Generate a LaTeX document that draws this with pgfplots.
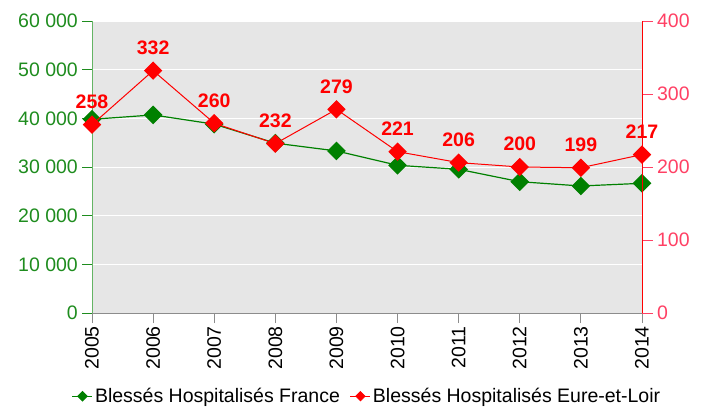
\documentclass[border=0pt]{standalone}
\usepackage{fontspec}
\setmainfont{Liberation Sans}
\usepackage{pgfplots}
\pgfplotsset{compat=1.18}
\definecolor{bggray}{RGB}{230,230,230}
\definecolor{ggreen}{RGB}{0,128,0}
\definecolor{glab}{RGB}{30,140,30}
\definecolor{gaxis}{RGB}{100,180,100}
\definecolor{rlab}{RGB}{255,64,100}
\definecolor{xgray}{RGB}{140,140,140}
\newcommand{\fs}{\fontsize{19.5}{23}\selectfont}
\begin{document}
\begin{tikzpicture}
\useasboundingbox (0,0) rectangle (708pt,408pt);
\begin{axis}[
  at={(92pt,95pt)}, anchor=south west,
  scale only axis, width=550pt, height=292pt,
  xmin=2005, xmax=2014, ymin=0, ymax=60000,
  clip=false,
  scaled y ticks=false, scaled x ticks=false,
  axis background/.style={fill=bggray},
  axis x line=bottom, axis y line=left,
  x axis line style={-, draw=xgray, line width=1pt},
  y axis line style={-, draw=gaxis, line width=1pt},
  tick align=outside,
  major tick length=10pt,
  xtick={2005,2006,2007,2008,2009,2010,2011,2012,2013,2014},
  xticklabels={2005,2006,2007,2008,2009,2010,2011,2012,2013,2014},
  x tick style={draw=xgray, line width=1pt},
  xticklabel style={rotate=90, anchor=east, font=\fs, text=black, inner sep=3pt},
  ytick={0,10000,20000,30000,40000,50000,60000},
  yticklabels={0,10\ 000,20\ 000,30\ 000,40\ 000,50\ 000,60\ 000},
  y tick style={draw=glab, line width=1pt},
  yticklabel style={font=\fs, text=glab, inner sep=4pt},
  ymajorgrids,
  grid style={white, line width=1pt},
  minor tick num=0,
]
\addplot[ggreen, line width=1.2pt, mark=square*, mark size=6pt, mark options={rotate=45, fill=ggreen, draw=ggreen}]
coordinates {(2005,39800) (2006,40700) (2007,38800) (2008,34900) (2009,33300) (2010,30350) (2011,29530) (2012,26980) (2013,26100) (2014,26650)};
\end{axis}
\begin{axis}[
  at={(92pt,95pt)}, anchor=south west,
  scale only axis, width=550pt, height=292pt,
  xmin=2005, xmax=2014, ymin=0, ymax=400,
  clip=false,
  /pgf/number format/assume math mode=true,
  axis x line=none, axis y line=right,
  y axis line style={-, draw=red, line width=0.8pt},
  tick align=outside,
  major tick length=11pt,
  ytick={0,100,200,300,400},
  yticklabels={0,100,200,300,400},
  y tick style={draw=rlab, line width=1pt},
  yticklabel style={font=\fs, text=rlab, inner sep=4pt},
  nodes near coords={\pgfmathprintnumber[assume math mode=true]{\pgfplotspointmeta}},
  every node near coord/.append style={font=\fs\bfseries, text=red, anchor=south, yshift=12pt},
  legend columns=2,
  legend style={at={(-0.037,-0.285)}, anchor=west, draw=none, fill=none, inner sep=0pt,
    font=\fs, nodes={inner sep=2pt},
    /tikz/every even column/.append style={column sep=8pt}},
  legend cell align=left,
  legend image code/.code={\draw[mark repeat=2,mark phase=2,mark size=3.2pt] plot coordinates {(0pt,0pt) (10pt,0pt) (20pt,0pt)};},
]
\addlegendimage{ggreen, line width=1.2pt, mark=square*, mark options={rotate=45, fill=ggreen, draw=ggreen}}
\addlegendentry{Blessés Hospitalisés France}
\addplot[red, line width=1pt, mark=square*, mark size=6pt, mark options={rotate=45, fill=red, draw=red}]
coordinates {(2005,258) (2006,332) (2007,260) (2008,232) (2009,279) (2010,221) (2011,206) (2012,200) (2013,199) (2014,217)};
\addlegendentry{Blessés Hospitalisés Eure-et-Loir}
\end{axis}
\end{tikzpicture}
\end{document}
